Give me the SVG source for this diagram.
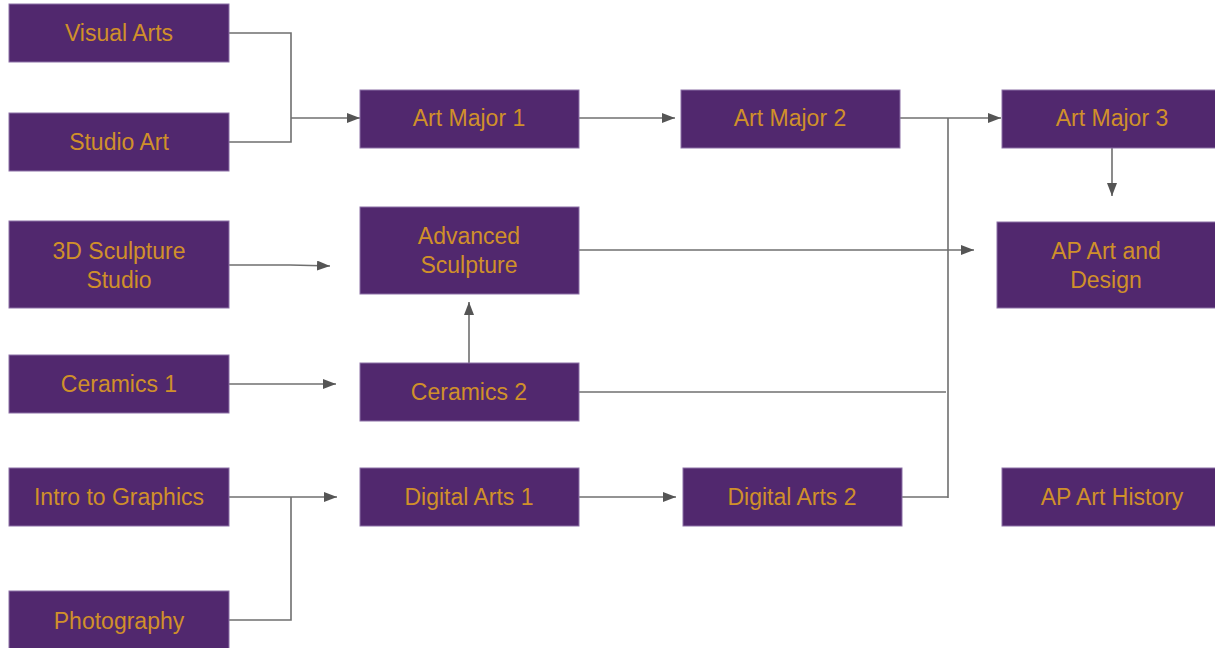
<svg xmlns="http://www.w3.org/2000/svg" width="1215" height="648" viewBox="0 0 1215 648">
<style>
.n rect{fill:#51286e;stroke:#8c70a6;stroke-width:1}
.n text{fill:#d0902a;font-family:"Liberation Sans",Arial,sans-serif;font-size:23px;text-anchor:middle}
.c path{fill:none;stroke:#6f6f6f;stroke-width:1.6}
</style>
<defs>
<marker id="ah" viewBox="0 0 13 10" refX="13" refY="5" markerWidth="13" markerHeight="10" markerUnits="userSpaceOnUse" orient="auto">
<path d="M0,0 L13,5 L0,10 Z" fill="#555"/>
</marker>
</defs>
<rect width="1215" height="648" fill="#fff"/>
<g class="c">
<path d="M229,33 H291 V142 H229"/>
<path d="M291,118 H360" marker-end="url(#ah)"/>
<path d="M229,265 H290 Q300,265 330,266" marker-end="url(#ah)"/>
<path d="M229,384 H336" marker-end="url(#ah)"/>
<path d="M469,363 V302" marker-end="url(#ah)"/>
<path d="M579,250 H974" marker-end="url(#ah)"/>
<path d="M579,118 H675" marker-end="url(#ah)"/>
<path d="M900,118 H1001" marker-end="url(#ah)"/>
<path d="M948,118 V498"/>
<path d="M579,392 H946"/>
<path d="M902,497 H948"/>
<path d="M1112,148 V196" marker-end="url(#ah)"/>
<path d="M229,497 H337" marker-end="url(#ah)"/>
<path d="M291,497 V620 H229"/>
<path d="M579,497 H676" marker-end="url(#ah)"/>
</g>
<g id="visual-arts" class="n"><rect x="9" y="4" width="220" height="58"/><text x="119" y="41">Visual Arts</text></g>
<g id="studio-art" class="n"><rect x="9" y="113" width="220" height="58"/><text x="119" y="150">Studio Art</text></g>
<g id="sculpture-studio" class="n"><rect x="9" y="221" width="220" height="87"/><text x="119" y="259">3D Sculpture</text><text x="119" y="288">Studio</text></g>
<g id="ceramics-1" class="n"><rect x="9" y="355" width="220" height="58"/><text x="119" y="392">Ceramics 1</text></g>
<g id="intro-graphics" class="n"><rect x="9" y="468" width="220" height="58"/><text x="119" y="505">Intro to Graphics</text></g>
<g id="photography" class="n"><rect x="9" y="591" width="220" height="62"/><text x="119" y="629">Photography</text></g>
<g id="art-major-1" class="n"><rect x="360" y="90" width="219" height="58"/><text x="469" y="126">Art Major 1</text></g>
<g id="advanced-sculpture" class="n"><rect x="360" y="207" width="219" height="87"/><text x="469" y="244">Advanced</text><text x="469" y="273">Sculpture</text></g>
<g id="ceramics-2" class="n"><rect x="360" y="363" width="219" height="58"/><text x="469" y="400">Ceramics 2</text></g>
<g id="digital-arts-1" class="n"><rect x="360" y="468" width="219" height="58"/><text x="469" y="505">Digital Arts 1</text></g>
<g id="art-major-2" class="n"><rect x="681" y="90" width="219" height="58"/><text x="790" y="126">Art Major 2</text></g>
<g id="digital-arts-2" class="n"><rect x="683" y="468" width="219" height="58"/><text x="792" y="505">Digital Arts 2</text></g>
<g id="art-major-3" class="n"><rect x="1002" y="90" width="220" height="58"/><text x="1112" y="126">Art Major 3</text></g>
<g id="ap-art-design" class="n"><rect x="997" y="222" width="222" height="86"/><text x="1106" y="259">AP Art and</text><text x="1106" y="288">Design</text></g>
<g id="ap-art-history" class="n"><rect x="1002" y="468" width="220" height="58"/><text x="1112" y="505">AP Art History</text></g>
</svg>
